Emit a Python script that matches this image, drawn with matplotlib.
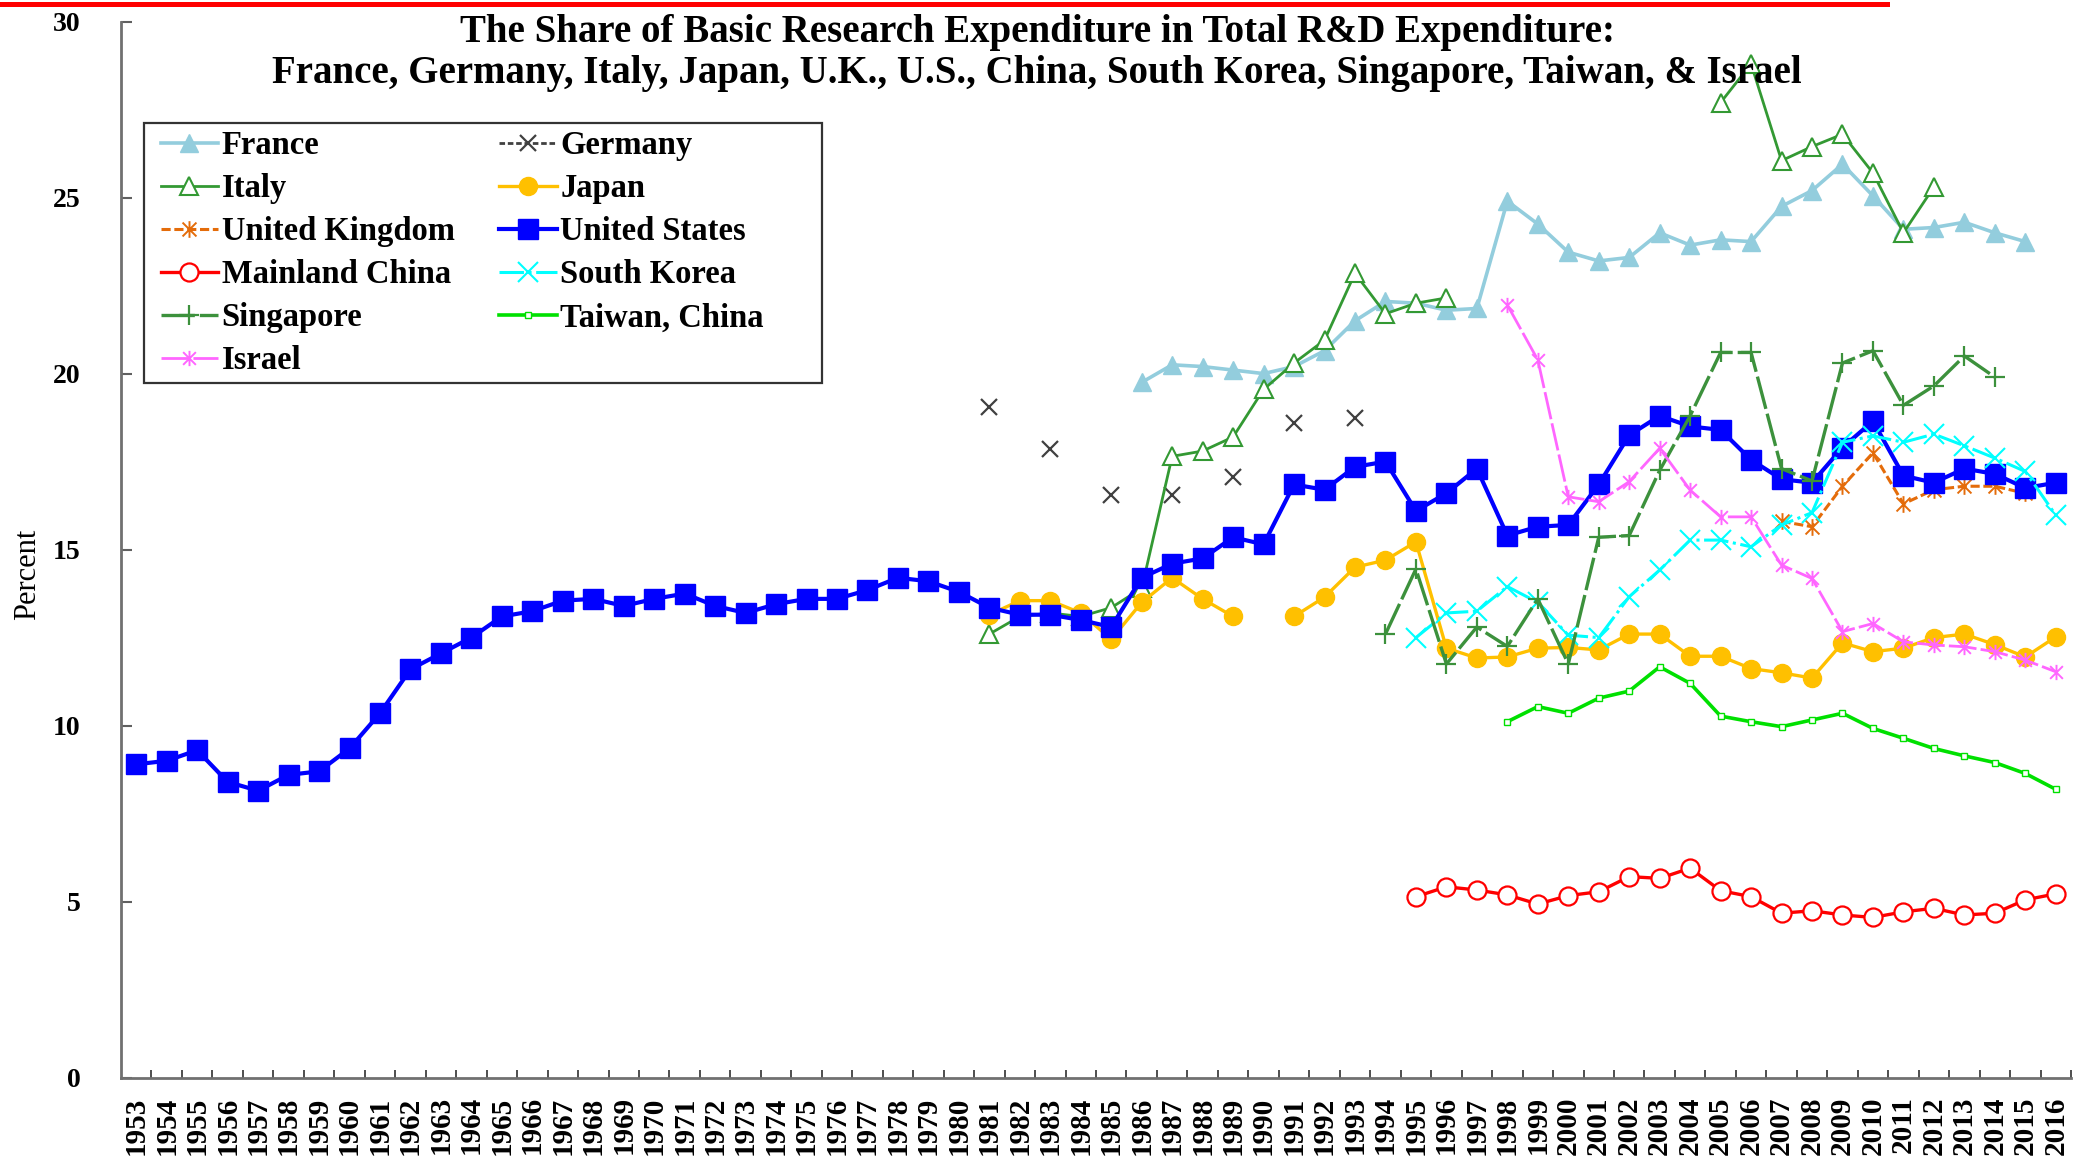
import numpy as np
import matplotlib.pyplot as plt
import matplotlib.lines as mlines
import matplotlib.patches as patches
from matplotlib.path import Path

plt.rcParams['font.family'] = ['Liberation Serif', 'DejaVu Serif']
plt.rcParams['font.weight'] = 'bold'

######### Data: basic research share of total R&D (percent) #########
years = list(range(1953, 2017))
year_labels = [str(y) for y in years]

us_start = 1953
us = [8.9, 9.0, 9.3, 8.4, 8.15, 8.6, 8.7, 9.35, 10.35, 11.6,
      12.05, 12.5, 13.1, 13.25, 13.55, 13.6, 13.4, 13.6, 13.75, 13.4,
      13.2, 13.45, 13.6, 13.6, 13.85, 14.2, 14.1, 13.8, 13.35, 13.15,
      13.15, 13.0, 12.8, 14.2, 14.6, 14.75, 15.35, 15.15, 16.85, 16.7,
      17.35, 17.5, 16.1, 16.6, 17.3, 15.4, 15.65, 15.7, 16.85, 18.25,
      18.8, 18.5, 18.4, 17.55, 17.0, 16.9, 17.9, 18.65, 17.1, 16.9,
      17.3, 17.15, 16.75, 16.9]

france_start = 1986
france = [19.75, 20.25, 20.2, 20.1, 20.0, 20.2, 20.65, 21.5, 22.05, 22.0,
          21.8, 21.85, 24.9, 24.25, 23.45, 23.2, 23.3, 24.0, 23.65, 23.8,
          23.75, 24.75, 25.2, 25.95, 25.05, 24.1, 24.15, 24.3, 24.0, 23.75]

germany_start = 1981
germany = [19.05, None, 17.85, None, 16.55, None, 16.55, None, 17.05, None,
           18.6, None, 18.75]

italy_start = 1981
italy = [12.6, 13.1, 13.2, 13.1, 13.35, 13.9, 17.65, 17.8, 18.2, 19.55,
         20.3, 20.95, 22.85, 21.7, 22.0, 22.15,
         None, None, None, None, None, None, None, None,
         27.7, 28.8, 26.05, 26.45, 26.8, 25.7, 24.0, 25.3]

japan_start = 1981
japan = [13.15, 13.55, 13.55, 13.2, 12.45, 13.5, 14.2, 13.6, 13.1, None,
         13.1, 13.65, 14.5, 14.7, 15.22, 12.2, 11.92, 11.95, 12.2, 12.22,
         12.15, 12.6, 12.6, 11.97, 11.97, 11.62, 11.5, 11.35, 12.35, 12.1,
         12.2, 12.5, 12.6, 12.3, 11.95, 12.52]

uk_start = 2007
uk = [15.8, 15.65, 16.8, 17.75, 16.3, 16.7, 16.8, 16.8, 16.6]

china_start = 1995
china = [5.14, 5.42, 5.33, 5.19, 4.93, 5.17, 5.28, 5.71, 5.66, 5.95,
         5.31, 5.14, 4.67, 4.74, 4.62, 4.55, 4.71, 4.81, 4.62, 4.67,
         5.05, 5.22]

korea_start = 1995
korea = [12.5, 13.2, 13.25, 13.95, 13.5, 12.57, 12.5, 13.66, 14.42, 15.27,
         15.27, 15.08, 15.7, 16.05, 18.05, 18.23, 18.05, 18.28, 17.95, 17.6,
         17.22, 15.98]

singapore_start = 1994
singapore = [12.6, 14.45, 11.75, 12.8, 12.25, 13.6, 11.75, 15.35, 15.4, 17.25,
             18.8, 20.6, 20.6, 17.3, 16.95, 20.3, 20.65, 19.1, 19.65, 20.5,
             19.9]

taiwan_start = 1998
taiwan = [10.11, 10.54, 10.35, 10.78, 10.98, 11.67, 11.2, 10.27, 10.11, 9.97,
          10.16, 10.35, 9.92, 9.64, 9.35, 9.14, 8.95, 8.64, 8.19]

israel_start = 1998
israel = [21.95, 20.39, 16.5, 16.36, 16.93, 17.88, 16.69, 15.93, 15.93, 14.56,
          14.18, 12.67, 12.9, 12.38, 12.29, 12.24, 12.1, 11.86, 11.53]

title_1 = "The Share of Basic Research Expenditure in Total R&D Expenditure:"
title_2 = ("France, Germany, Italy, Japan, U.K., U.S., China, South Korea, "
           "Singapore, Taiwan, & Israel")


def xy(start, vals):
    v = np.array(vals, dtype=float)
    return np.arange(start, start + len(v)), v


# Excel style "*" marker: an x with a vertical bar
star = Path([(-1, -1), (1, 1), (-1, 1), (1, -1), (0, -1.2), (0, 1.2)],
            [Path.MOVETO, Path.LINETO] * 3)

W, H = 2073, 1159
fig = plt.figure(figsize=(W / 100, H / 100), dpi=100)
ax = fig.add_axes([121 / W, 1 - 1077.6 / H, 1950 / W, 1056 / H])

l_fr, = ax.plot(*xy(france_start, france), color='#93CDDD', lw=2.6, marker='^', ms=13,
                label='France')
l_de, = ax.plot(*xy(germany_start, germany), color='#404040', lw=2, ls=(0, (2, 1)),
                marker='x', ms=12, mew=1.6, label='Germany')
l_it, = ax.plot(*xy(italy_start, italy), color='#339933', lw=2, marker='^', ms=13,
                mfc='white', mec='#339933', mew=1.5, label='Italy')
l_jp, = ax.plot(*xy(japan_start, japan), color='#FFC000', lw=2.4, marker='o', ms=13,
                label='Japan')
l_uk, = ax.plot(*xy(uk_start, uk), color='#E46C0A', lw=2.2, ls=(0, (3, 1.2)),
                marker=star, ms=12, mew=1.4, label='United Kingdom')
l_us, = ax.plot(*xy(us_start, us), color='#0000FF', lw=3, marker='s', ms=14.5,
                label='United States')
l_cn, = ax.plot(*xy(china_start, china), color='#FF0000', lw=2.4, marker='o', ms=13,
                mfc='white', mec='#FF0000', mew=1.6, label='Mainland China')
l_kr, = ax.plot(*xy(korea_start, korea), color='#00FFFF', lw=2.2, ls=(0, (8, 1.5, 1, 1.5)),
                marker='x', ms=14, mew=1.5, label='South Korea')
l_sg, = ax.plot(*xy(singapore_start, singapore), color='#3C913C', lw=2.4, ls=(0, (10, 1.5)),
                marker='+', ms=15, mew=1.6, label='Singapore')
l_tw, = ax.plot(*xy(taiwan_start, taiwan), color='#00E000', lw=2.6, marker='s', ms=4,
                mfc='white', mec='#00E000', mew=1, label='Taiwan, China')
l_il, = ax.plot(*xy(israel_start, israel), color='#FF66FF', lw=2, ls=(0, (10, 1.5)),
                marker=star, ms=11, mew=1.4, label='Israel')

ax.set_xlim(1952.5, 2016.5)
ax.set_ylim(0, 30)
ax.set_xticks(years)
ax.set_xticklabels(year_labels, rotation=90, fontsize=21)
ax.set_xticks(np.arange(1953.5, 2016.6, 1), minor=True)
ax.tick_params(axis='x', which='major', length=0, pad=13.5)
ax.tick_params(axis='x', which='minor', direction='in', length=6, width=1.3, color='#404040')
ax.set_yticks(range(0, 31, 5))
ax.tick_params(axis='y', direction='in', length=8, width=1.5, pad=29, labelsize=20,
               color='#606060')
for s in ['top', 'right']:
    ax.spines[s].set_visible(False)
for s in ['left', 'bottom']:
    ax.spines[s].set_color('#707070')
    ax.spines[s].set_linewidth(2)

ax.set_ylabel('Percent', fontsize=22, va='center')
ax.yaxis.set_label_coords((28 - 121) / 1950, (1077.6 - 574) / 1056)

# titles sit inside the plot area, under a red rule
fig.text(1037 / W, 1 - 41.7 / H, title_1, ha='center', va='baseline', fontsize=28)
fig.text(1037 / W, 1 - 82.7 / H, title_2, ha='center', va='baseline', fontsize=28)
fig.add_artist(mlines.Line2D([0, 1887 / W], [1 - 4.2 / H] * 2, color='red', lw=3.6))

# legend box drawn by hand, two single-column legends inside it
fig.add_artist(patches.Rectangle((143.5 / W, 1 - 383.3 / H), 678.5 / W, 260 / H,
                                 transform=fig.transFigure, facecolor='white',
                                 edgecolor='#333333', lw=1.6))
leg_kw = dict(loc='upper left', frameon=False, borderpad=0, borderaxespad=0, fontsize=23.5,
              handlelength=1.75, handletextpad=0.12, labelspacing=0.37,
              bbox_transform=fig.transFigure)
fig.legend(handles=[l_fr, l_it, l_uk, l_cn, l_sg, l_il],
           bbox_to_anchor=(160.7 / W, 1 - 130 / H), **leg_kw)
fig.legend(handles=[l_de, l_jp, l_us, l_kr, l_tw],
           bbox_to_anchor=(499.4 / W, 1 - 130 / H), **leg_kw)

fig.savefig('out.png', dpi=100)
